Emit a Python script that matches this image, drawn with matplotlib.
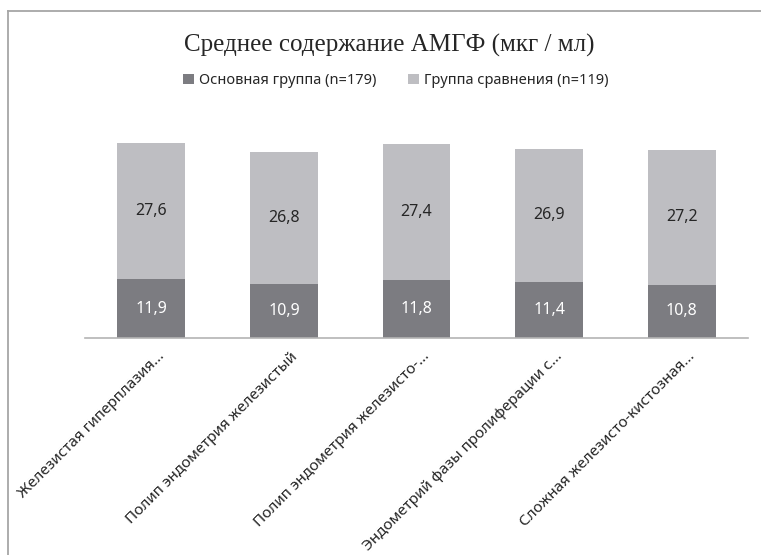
import matplotlib.pyplot as plt
from matplotlib.lines import Line2D
from matplotlib.transforms import ScaledTranslation
import numpy as np

categories = [
    'Железистая гиперплазия...',
    'Полип эндометрия железистый',
    'Полип эндометрия железисто-...',
    'Эндометрий фазы пролиферации с...',
    'Сложная железисто-кистозная...',
]
main_group = [11.9, 10.9, 11.8, 11.4, 10.8]
compare_group = [27.6, 26.8, 27.4, 26.9, 27.2]
series_names = ['Основная группа (n=179)', 'Группа сравнения (n=119)']

dark = '#7c7c81'
light = '#bebec2'
font = 'Noto Sans'

fig = plt.figure(figsize=(7.61, 5.55), dpi=100)
ax = fig.add_axes([0.1117, 0.391, 0.8713, 0.438])

x = np.arange(len(categories))
b1 = ax.bar(x, main_group, width=0.51, color=dark, label=series_names[0])
b2 = ax.bar(x, compare_group, width=0.51, bottom=main_group, color=light,
            label=series_names[1])

fmt = lambda v: f'{v:.1f}'.replace('.', ',')
ax.bar_label(b1, labels=[fmt(v) for v in main_group], label_type='center',
             color='white', fontsize=11.5, family=font)
ax.bar_label(b2, labels=[fmt(v) for v in compare_group], label_type='center',
             color='#262626', fontsize=11.5, family=font)

ax.set_xlim(-0.5, len(categories) - 0.5)
ax.set_ylim(0, 49.2)
ax.set_yticks([])
for s in ['top', 'right', 'left']:
    ax.spines[s].set_visible(False)
ax.spines['bottom'].set_color('#b4b4b4')
ax.spines['bottom'].set_linewidth(1.2)

ax.set_xticks(x)
ax.set_xticklabels(categories, rotation=45, ha='right', rotation_mode='anchor',
                   fontsize=11, family=font, color='#262626')
ax.tick_params(axis='x', length=0, pad=8)
shift = ScaledTranslation(6 / 100, 0, fig.dpi_scale_trans)
for lbl in ax.get_xticklabels():
    lbl.set_transform(lbl.get_transform() + shift)

fig.text(0.511, 0.918, 'Среднее содержание АМГФ (мкг / мл)', ha='center',
         va='center', fontsize=18, family='Liberation Serif', color='#262626')

fig.legend(handles=[b1, b2], labels=series_names, loc='center',
           bbox_to_anchor=(0.52, 0.855), ncol=2, frameon=False,
           prop={'family': font, 'size': 10.5}, handlelength=0.75,
           handleheight=0.75, handletextpad=0.3, columnspacing=2.2,
           labelcolor='#262626')

# chart border (top and left edges visible in crop)
fig.add_artist(Line2D([0.0099, 1.0], [0.980, 0.980], color='#a6a6a6', lw=1.3,
                      transform=fig.transFigure))
fig.add_artist(Line2D([0.0099, 0.0099], [0.0, 0.980], color='#a6a6a6', lw=1.3,
                      transform=fig.transFigure))

fig.savefig('out.png', dpi=100, facecolor='white')
